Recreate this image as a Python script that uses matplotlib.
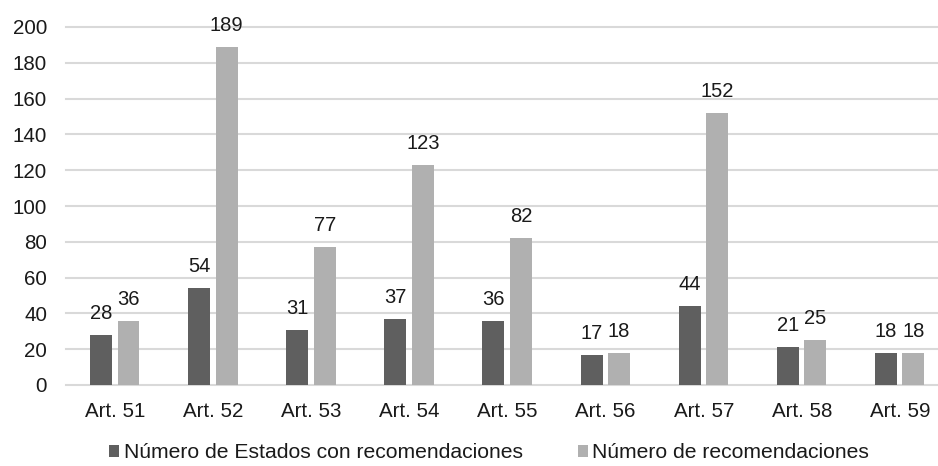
import numpy as np
import matplotlib
matplotlib.use('Agg')
import matplotlib.pyplot as plt

plt.rcParams['font.family'] = ['Liberation Sans', 'DejaVu Sans']

categories = ['Art. 51', 'Art. 52', 'Art. 53', 'Art. 54', 'Art. 55',
              'Art. 56', 'Art. 57', 'Art. 58', 'Art. 59']
estados = [28, 54, 31, 37, 36, 17, 44, 21, 18]
recomendaciones = [36, 189, 77, 123, 82, 18, 152, 25, 18]
yticks = [0, 20, 40, 60, 80, 100, 120, 140, 160, 180, 200]

dark = '#5f5f5f'
light = '#b0b0b0'
grid = '#d9d9d9'
txt = '#1a1a1a'

fig = plt.figure(figsize=(9.38, 4.66), dpi=100)
ax = fig.add_axes([66/938, 1 - 385/466, 883/938, 358/466])

x = np.arange(len(categories))
w = 0.224
b1 = ax.bar(x - 0.143, estados, w, color=dark, label='Número de Estados con recomendaciones', zorder=3)
b2 = ax.bar(x + 0.137, recomendaciones, w, color=light, label='Número de recomendaciones', zorder=3)

for bars in (b1, b2):
    for r in bars:
        ax.annotate(str(int(r.get_height())),
                    (r.get_x() + r.get_width()/2, r.get_height()),
                    xytext=(0, 12), textcoords='offset pixels',
                    ha='center', va='bottom', fontsize=14.5, color=txt,
                    annotation_clip=False)

ax.set_xlim(-0.5, len(categories) - 0.5)
ax.set_ylim(0, 200)
ax.set_yticks(yticks)
ax.set_xticks(x)
ax.set_xticklabels(categories)
ax.tick_params(axis='both', length=0, labelsize=14.8, colors=txt)
ax.tick_params(axis='x', pad=12.5)
ax.tick_params(axis='y', pad=13.5)
for s in ax.spines.values():
    s.set_visible(False)
for t in yticks:
    ax.axhline(t, color=grid, linewidth=1.5, zorder=1, clip_on=False)

fig.legend(loc='center', bbox_to_anchor=(489/938, 1 - 453/466), ncol=2,
           frameon=False, fontsize=15.2, handlelength=0.5, handleheight=0.5,
           handletextpad=0.2, columnspacing=2.6, labelcolor=txt)

fig.savefig('out.png', dpi=100)
